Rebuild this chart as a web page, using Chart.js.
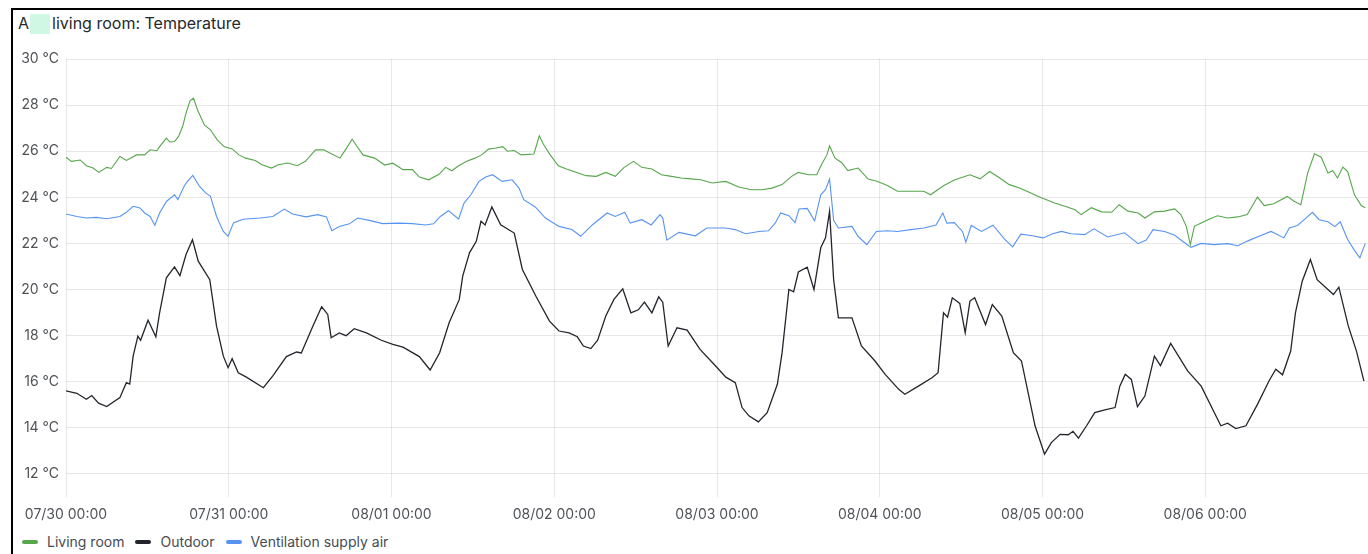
<!DOCTYPE html>
<html>
<head>
<meta charset="utf-8">
<title>Living room: Temperature</title>
<script src="https://cdn.jsdelivr.net/npm/chart.js@4.4.1/dist/chart.umd.min.js"></script>
<style>
  html, body { margin: 0; padding: 0; background: #fff; }
  body { width: 1368px; height: 554px; overflow: hidden; position: relative; font-family: Inter, "Noto Sans", sans-serif; }
  #frame { position: absolute; left: 11px; top: 8px; width: 1400px; height: 600px;
           border-left: 2px solid #000; border-top: 2px solid #000; }
  #title { position: absolute; left: 18px; top: 12px; font-size: 16px; font-weight: 400; color: #24292e;
           line-height: 22px; white-space: nowrap; }
  #title .mask { display: inline-block; width: 20px; height: 20px; background: #d0f7e3;
                 vertical-align: -5px; margin: 0 2px 0 1px; }
  #wrap { position: absolute; left: 13px; top: 40px; width: 1355px; height: 484px; }
  #legend { position: absolute; left: 22px; top: 534px; display: flex; font-size: 14px; color: #464c54;
            line-height: 16px; white-space: nowrap; }
  #legend .item { display: flex; align-items: center; margin-right: 11px; }
  #legend .mark { width: 16px; height: 4px; border-radius: 2px; margin-right: 9px; }
</style>
</head>
<body>
<div id="frame"></div>
<div id="title">A<span class="mask"></span>living room: Temperature</div>
<div id="wrap"><canvas id="tempChart"></canvas></div>
<div id="legend"></div>
<script>
// ── Data: [hours since 07/30 00:00, °C] ─────────────────────────────
const livingRoom = [
  [0, 25.74], [0.8, 25.56], [1.6, 25.6], [2.1, 25.62], [3, 25.37], [4, 25.27], [4.85, 25.08], [6, 25.3],
  [6.7, 25.25], [7.95, 25.77], [8.9, 25.6], [10.4, 25.84], [11.6, 25.84], [12.4, 26.06], [13.4, 26.02],
  [13.8, 26.2], [14.8, 26.57], [15.3, 26.4], [16, 26.42], [16.6, 26.64], [17.2, 27.07], [17.7, 27.65],
  [18.3, 28.2], [18.8, 28.3], [19.4, 27.79], [20.4, 27.14], [21.3, 26.93], [22.3, 26.49], [23.3, 26.2],
  [24.5, 26.1], [25.5, 25.84], [26.5, 25.7], [27.9, 25.6], [28.9, 25.41], [30.3, 25.27], [31.3, 25.41],
  [32.7, 25.49], [34.1, 25.37], [35.3, 25.56], [36.8, 26.06], [38, 26.06], [38.9, 25.92], [40.4, 25.7],
  [41.3, 26.1], [42.2, 26.52], [43.1, 26.13], [43.8, 25.84], [45.5, 25.7], [47, 25.4], [48.2, 25.48],
  [49.7, 25.2], [51.1, 25.2], [52.1, 24.88], [53.5, 24.76], [55, 25.0], [56, 25.3], [56.9, 25.15],
  [57.9, 25.37], [59.1, 25.56], [60.3, 25.7], [61.3, 25.84], [62.3, 26.09], [63.2, 26.13], [64.4, 26.2],
  [65.1, 26.0], [66.1, 26.03], [67.1, 25.84], [69, 25.88], [69.8, 26.67], [70.4, 26.3], [71.4, 25.84],
  [72.6, 25.37], [73.8, 25.23], [75.3, 25.08], [76.7, 24.94], [78.2, 24.91], [79.6, 25.08], [81, 24.91],
  [82.3, 25.3], [83.7, 25.56], [84.9, 25.3], [86.4, 25.23], [87.8, 24.98], [89.3, 24.91], [90.7, 24.84],
  [92.1, 24.8], [93.6, 24.76], [95.3, 24.62], [97.3, 24.69], [99.2, 24.45], [101.1, 24.33], [102.6, 24.33],
  [104.1, 24.4], [105.6, 24.55], [107, 24.91], [108, 25.08], [109.5, 24.98], [110.7, 24.98], [111.4, 25.41],
  [112.2, 25.84], [112.6, 26.23], [113.4, 25.7], [114.4, 25.5], [115.3, 25.16], [116.8, 25.27], [118.3, 24.79],
  [119.7, 24.69], [121.2, 24.5], [122.6, 24.26], [124.6, 24.26], [126.5, 24.26], [127.5, 24.11], [129.4, 24.5],
  [131.1, 24.76], [133.3, 24.98], [134.8, 24.8], [136.2, 25.12], [137.7, 24.84], [139.1, 24.55], [140.6, 24.4],
  [142.2, 24.2], [143.3, 24.05], [144.3, 23.93], [145.8, 23.75], [147.3, 23.61], [148.8, 23.46], [149.7, 23.25],
  [151.2, 23.55], [152.7, 23.37], [154.2, 23.35], [155.3, 23.68], [156.6, 23.4], [158.1, 23.32], [159.1, 23.1],
  [160.5, 23.37], [162, 23.4], [163.5, 23.5], [164.4, 23.25], [165.2, 22.74], [165.8, 21.95], [166.4, 22.74],
  [167.4, 22.89], [168.4, 23.03], [169.8, 23.2], [171.3, 23.1], [172.8, 23.15], [174.2, 23.25], [175.7, 24.01],
  [176.7, 23.64], [178.1, 23.72], [180.1, 24.04], [181.1, 23.83], [182.1, 23.68], [183.1, 25.05], [184.1, 25.89],
  [185.1, 25.74], [186.1, 25.05], [186.8, 25.15], [187.5, 24.84], [188.3, 25.31], [189, 25.12], [190, 24.11],
  [191, 23.64], [191.6, 23.55],
];

const outdoor = [
  [0, 15.6], [1.6, 15.5], [3, 15.24], [3.8, 15.4], [4.8, 15.07], [6, 14.92], [7.95, 15.31], [8.9, 15.96],
  [9.4, 15.9], [9.9, 17.11], [10.6, 17.98], [11, 17.8], [12.1, 18.67], [13.25, 17.95], [13.8, 18.99],
  [14.8, 20.51], [16, 20.98], [16.8, 20.6], [17.7, 21.52], [18.65, 22.16], [19.5, 21.23], [21.2, 20.43],
  [22.2, 18.41], [23.2, 17.11], [23.9, 16.61], [24.5, 17.0], [25.4, 16.39], [26.6, 16.2], [29.1, 15.74],
  [30.5, 16.25], [32.5, 17.09], [34, 17.29], [34.7, 17.25], [36.4, 18.41], [37.7, 19.25], [38.6, 18.92],
  [39.1, 17.91], [40.3, 18.12], [41.3, 18.0], [42.5, 18.3], [44.3, 18.12], [46.5, 17.8], [48.2, 17.62],
  [49.7, 17.5], [52.1, 17.09], [53.7, 16.51], [55.1, 17.26], [56.5, 18.56], [58, 19.57], [58.5, 20.58],
  [59.5, 21.59], [60.5, 22.09], [61.2, 22.96], [61.8, 22.8], [62.8, 23.58], [64.1, 22.81], [66.1, 22.45],
  [67.3, 20.87], [69.3, 19.71], [71.3, 18.63], [72.7, 18.2], [74.2, 18.12], [75.4, 17.95], [76.3, 17.55],
  [77.4, 17.44], [78.4, 17.8], [79.6, 18.85], [80.8, 19.57], [82.1, 20.03], [83.3, 18.99], [84.4, 19.12],
  [85.3, 19.45], [86.4, 18.99], [87.4, 19.68], [88, 19.45], [88.8, 17.55], [90.1, 18.34], [91.6, 18.24],
  [93.5, 17.4], [95.8, 16.68], [97.3, 16.2], [98.7, 15.96], [99.7, 14.88], [100.7, 14.52], [102.1, 14.26],
  [103.4, 14.66], [104.9, 15.89], [105.6, 17.26], [106.6, 20.0], [107.3, 19.9], [108, 20.76], [109.3, 20.97],
  [110.3, 20.0], [111.3, 21.81], [112, 22.24], [112.6, 23.39], [113.2, 20.43], [113.9, 18.77], [115.9, 18.77],
  [117.3, 17.55], [119.3, 16.9], [120.8, 16.32], [122.8, 15.67], [123.7, 15.46], [125.7, 15.81], [127.7, 16.17],
  [128.6, 16.39], [129.4, 18.99], [130, 18.8], [130.7, 19.64], [131.8, 19.4], [132.6, 18.12], [133.3, 19.5],
  [134, 19.64], [135.6, 18.48], [136.6, 19.35], [138, 18.85], [139.7, 17.26], [140.9, 16.9], [141.9, 15.5],
  [142.9, 14.09], [144.3, 12.86], [145.3, 13.36], [146.6, 13.72], [147.8, 13.7], [148.5, 13.85], [149.3, 13.55],
  [150.5, 14.09], [151.7, 14.66], [153.2, 14.78], [154.7, 14.88], [155.4, 15.81], [156.2, 16.32], [157.1, 16.1],
  [158, 14.92], [159.1, 15.38], [160.5, 17.11], [161.4, 16.7], [162.9, 17.66], [165.4, 16.47], [167.4, 15.81],
  [170.3, 14.09], [171.3, 14.2], [172.5, 13.97], [174, 14.09], [175.7, 15.02], [177.4, 16.03], [178.4, 16.54],
  [179.4, 16.3], [180.6, 17.33], [181.3, 18.99], [182.3, 20.36], [183.5, 21.3], [184.5, 20.43], [186.9, 19.78],
  [187.7, 20.1], [189.1, 18.41], [190.3, 17.33], [191.4, 16.03],
];

const supplyAir = [
  [0, 23.28], [1.6, 23.17], [3, 23.1], [4.5, 23.13], [6, 23.07], [7.95, 23.17], [8.9, 23.35], [9.9, 23.61],
  [10.9, 23.54], [11.6, 23.32], [12.4, 23.17], [13.1, 22.79], [13.8, 23.32], [14.8, 23.82], [16, 24.11],
  [16.5, 23.9], [17.4, 24.47], [17.9, 24.69], [18.7, 24.95], [19.7, 24.47], [20.6, 24.19], [21.3, 24.04],
  [22.2, 23.17], [23.2, 22.52], [23.9, 22.31], [24.7, 22.89], [26.1, 23.05], [28.6, 23.1], [30.5, 23.17],
  [32.2, 23.49], [33.4, 23.28], [35.4, 23.15], [37.1, 23.25], [38.4, 23.15], [39.2, 22.55], [40.3, 22.73],
  [41.8, 22.85], [43, 23.1], [44.7, 23.0], [46.7, 22.86], [49.1, 22.88], [51.1, 22.86], [53, 22.8],
  [54.2, 22.85], [55.2, 23.17], [56.4, 23.42], [57.9, 23.06], [58.7, 23.75], [59.7, 24.11], [60.9, 24.69],
  [61.9, 24.88], [62.9, 24.98], [64.3, 24.69], [65.8, 24.76], [66.8, 24.4], [67.5, 23.9], [69.2, 23.58],
  [70.7, 23.1], [72.7, 22.74], [74.6, 22.6], [75.9, 22.31], [77.6, 22.8], [79.8, 23.32], [81, 23.17],
  [82.4, 23.35], [83.2, 22.88], [84.9, 23.03], [86.3, 22.8], [87.6, 23.25], [88, 23.1], [88.6, 22.14],
  [90.4, 22.48], [92.8, 22.33], [94.5, 22.67], [97.3, 22.67], [98.7, 22.6], [100.2, 22.42], [102.2, 22.52],
  [103.6, 22.55], [104.6, 22.89], [105.4, 23.32], [106.6, 23.2], [107.5, 22.9], [108.1, 23.49], [109.3, 23.52],
  [110.4, 22.98], [111.3, 24.11], [112, 24.33], [112.6, 24.79], [113.2, 23.0], [113.9, 22.67], [115.9, 22.74],
  [116.8, 22.31], [118.1, 21.95], [119.5, 22.52], [121.2, 22.55], [122.6, 22.52], [124.6, 22.6], [126.5, 22.67],
  [128.3, 22.8], [129.3, 23.32], [129.9, 22.88], [131, 22.9], [132.2, 22.52], [132.7, 22.05], [133.5, 22.78],
  [135, 22.52], [136.7, 22.79], [138.4, 22.19], [139.6, 21.85], [140.8, 22.4], [142.5, 22.33], [144.1, 22.24],
  [145.5, 22.42], [146.8, 22.52], [148.2, 22.42], [150.2, 22.38], [151.6, 22.63], [153.6, 22.28], [156.1, 22.46],
  [158.1, 21.99], [159.3, 22.15], [160.3, 22.6], [162, 22.52], [163.5, 22.35], [164.9, 22.04], [165.9, 21.83],
  [167.4, 22.0], [169.3, 21.95], [171.3, 21.99], [172.8, 21.9], [174.2, 22.1], [176.2, 22.34], [177.7, 22.52],
  [178.4, 22.42], [179.6, 22.24], [180.4, 22.67], [181.6, 22.78], [182.6, 23.03], [183.8, 23.35], [184.8, 23.03],
  [186.1, 22.94], [187.1, 22.73], [187.9, 22.94], [189, 22.17], [190, 21.7], [190.8, 21.37], [191.6, 22.0],
];

const seriesNames  = ['Living room', 'Outdoor', 'Ventilation supply air'];
const seriesColors = ['#56a64b', '#22252b', '#5794f2'];

const dayHours  = [0, 24, 48, 72, 96, 120, 144, 168];
const dayLabels = ['07/30 00:00', '07/31 00:00', '08/01 00:00', '08/02 00:00',
                   '08/03 00:00', '08/04 00:00', '08/05 00:00', '08/06 00:00'];
const yTicks    = [12, 14, 16, 18, 20, 22, 24, 26, 28, 30];

// ── Chart ───────────────────────────────────────────────────────────
const GRID = 'rgba(0,0,0,0.09)';
const TICK = '#4f5358';
const FONT = { family: 'Inter', size: 14 };

function toPoints(rows) { return rows.map(([x, y]) => ({ x, y })); }

const datasets = [livingRoom, outdoor, supplyAir].map((rows, i) => ({
  label: seriesNames[i],
  data: toPoints(rows),
  borderColor: seriesColors[i],
  backgroundColor: seriesColors[i],
  borderWidth: i === 1 ? 1.3 : 1.1,
  pointRadius: 0,
  tension: 0,
  fill: false,
}));

new Chart(document.getElementById('tempChart'), {
  type: 'line',
  data: { datasets },
  options: {
    responsive: true,
    maintainAspectRatio: false,
    animation: false,
    layout: { padding: { top: 19, right: 0, bottom: 0, left: 0 } },
    plugins: { legend: { display: false }, tooltip: { enabled: false } },
    scales: {
      x: {
        type: 'linear', min: 0, max: 192,
        afterBuildTicks: s => { s.ticks = dayHours.map(v => ({ value: v })); },
        afterFit: s => { s.height = 27; },
        ticks: { callback: v => dayLabels[dayHours.indexOf(v)], color: TICK, font: FONT,
                 padding: 9, maxRotation: 0, autoSkip: false },
        grid: { color: GRID, drawTicks: false },
        border: { display: false },
      },
      y: {
        min: 11, max: 30,
        afterBuildTicks: s => { s.ticks = yTicks.map(v => ({ value: v })); },
        afterFit: s => { s.width = 53; },
        ticks: { callback: v => v + ' °C', color: TICK, font: FONT, padding: 7 },
        grid: { color: GRID, drawTicks: false },
        border: { display: false },
      },
    },
  },
});

// ── Legend ──────────────────────────────────────────────────────────
const legend = document.getElementById('legend');
seriesNames.forEach((name, i) => {
  const item = document.createElement('div');
  item.className = 'item';
  item.innerHTML = '<span class="mark" style="background:' + seriesColors[i] + '"></span>' + name;
  legend.appendChild(item);
});
</script>
</body>
</html>
